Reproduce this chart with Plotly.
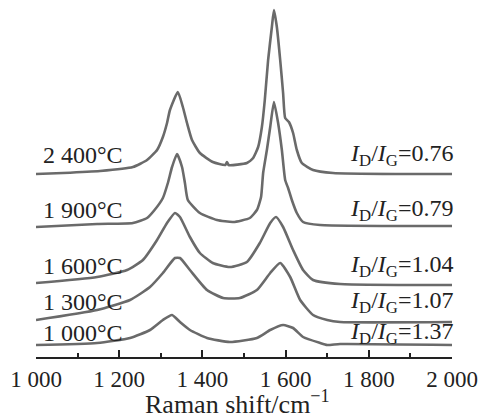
import plotly.graph_objects as go

# Raman shift (cm^-1) and stacked intensity (a.u., offset per temperature)
wn_2400 = [1000, 1065, 1154, 1233, 1267, 1291, 1305, 1315, 1322, 1341, 1353, 1363, 1375, 1394, 1425,
           1455, 1459, 1463, 1507, 1522, 1534, 1543, 1550, 1558, 1567, 1572, 1579, 1587, 1594, 1599,
           1608, 1618, 1627, 1639, 1666, 1714, 1875, 2000]
int_2400 = [183, 184, 186, 190, 197, 207, 220, 234, 247, 265, 250, 234, 217, 204, 195,
            192, 195, 192, 194, 199, 210, 230, 257, 297, 330, 347, 330, 297, 264, 239,
            235, 224, 207, 194, 187, 184, 183, 183]

wn_1900 = [1000, 1147, 1233, 1267, 1285, 1305, 1317, 1327, 1339, 1351, 1358, 1365, 1394, 1435, 1474,
           1514, 1531, 1541, 1546, 1555, 1563, 1572, 1582, 1591, 1599, 1606, 1615, 1627, 1642, 1683, 2000]
int_1900 = [130, 133, 134, 139, 147, 159, 174, 190, 203, 190, 174, 157, 144, 137, 135,
            139, 147, 160, 184, 207, 230, 255, 234, 207, 177, 169, 157, 144, 135, 132, 131]

wn_1600 = [1000, 1147, 1219, 1257, 1291, 1315, 1334, 1346, 1370, 1394, 1425, 1466, 1507, 1538, 1563, 1577,
           1594, 1618, 1642, 1666, 1731, 2000]
int_1600 = [74, 80, 87, 97, 117, 134, 144, 140, 120, 104, 94, 90, 95, 114, 134, 140,
            130, 107, 87, 77, 73, 72]

wn_1300 = [1000, 1147, 1226, 1274, 1305, 1334, 1346, 1370, 1411, 1450, 1490, 1531, 1563, 1587, 1611, 1635,
           1666, 1700, 1731, 2000]
int_1300 = [37, 47, 57, 70, 84, 99, 99, 87, 67, 59, 59, 67, 84, 94, 80, 57,
            42, 37, 35, 35]

wn_1000 = [1000, 1147, 1226, 1274, 1305, 1327, 1346, 1370, 1411, 1466, 1531, 1563, 1594, 1618, 1642, 1683,
           1700, 1731, 2000]
int_1000 = [12, 14, 19, 27, 37, 42, 35, 27, 19, 15, 19, 27, 32, 29, 20, 14,
            12, 13, 12]

temps = ["2 400°C", "1 900°C", "1 600°C", "1 300°C", "1 000°C"]
ratios = ["0.76", "0.79", "1.04", "1.07", "1.37"]
label_levels = [202, 147, 91, 55, 24]

tick_vals = [1000, 1200, 1400, 1600, 1800, 2000]
tick_text = ["1 000", "1 200", "1 400", "1 600", "1 800", "2 000"]
x_title = "Raman shift/cm<sup>−1</sup>"

series = [(wn_2400, int_2400), (wn_1900, int_1900), (wn_1600, int_1600),
          (wn_1300, int_1300), (wn_1000, int_1000)]

FONT = "Liberation Serif, Times New Roman, serif"
fig = go.Figure()
for wn, inten in series:
    fig.add_trace(go.Scatter(x=wn, y=inten, mode="lines",
                             line=dict(color="#6a6a6a", width=2.6, shape="spline", smoothing=0.5),
                             showlegend=False, hoverinfo="skip"))

for t, r, lv in zip(temps, ratios, label_levels):
    fig.add_annotation(x=0.012, xref="paper", y=lv, yref="y", text=t, showarrow=False,
                       xanchor="left", yanchor="middle", font=dict(family=FONT, size=24, color="#222"))
    fig.add_annotation(x=1.008, xref="paper", y=lv, yref="y",
                       text="<i>I</i><sub>D</sub>/<i>I</i><sub>G</sub>=" + r, showarrow=False,
                       xanchor="right", yanchor="middle", font=dict(family=FONT, size=24, color="#222"))

fig.add_annotation(x=0.484, xref="paper", y=-0.128, yref="paper", text=x_title, showarrow=False,
                   xanchor="center", yanchor="middle", font=dict(family=FONT, size=26, color="#222"))

fig.update_layout(
    width=483, height=419,
    margin=dict(l=36, r=31, t=0, b=62),
    paper_bgcolor="white", plot_bgcolor="white",
    xaxis=dict(range=[1000, 2000], tickvals=tick_vals, ticktext=tick_text,
               ticks="inside", ticklen=7, tickwidth=2, tickcolor="#222",
               showline=True, linecolor="#222", linewidth=2, showgrid=False, zeroline=False,
               minor=dict(ticks="inside", ticklen=4, tickwidth=2, tickcolor="#222", dtick=100, showgrid=False),
               tickfont=dict(family=FONT, size=23, color="#222")),
    yaxis=dict(range=[0, 357], visible=False, showgrid=False, zeroline=False),
)
fig.write_html("out.html")
